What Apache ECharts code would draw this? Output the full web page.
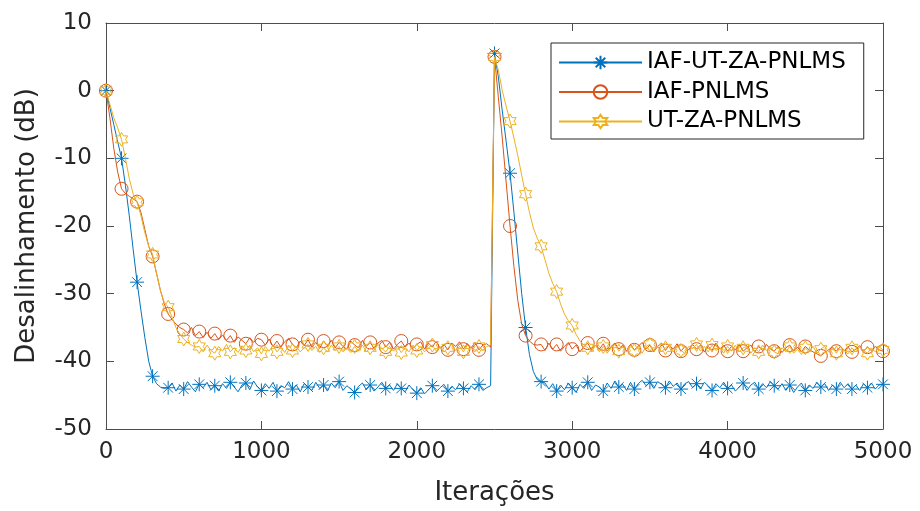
<!DOCTYPE html>
<html><head><meta charset="utf-8">
<script src="https://cdn.jsdelivr.net/npm/echarts@6/dist/echarts.min.js"></script>
<style>html,body{margin:0;padding:0;background:#fff}#c{width:920px;height:511px}</style>
</head><body><div id="c"></div>
<script>
// Iteration step between consecutive samples
const STEP = 25;
const MARKER_EVERY = 4; // markers every 100 iterations
const seriesNames = ['IAF-UT-ZA-PNLMS', 'IAF-PNLMS', 'UT-ZA-PNLMS'];
const xTickLabels = [0, 1000, 2000, 3000, 4000, 5000];
const yTickLabels = [-50, -40, -30, -20, -10, 0, 10];

const iafUtZa = [
0,-2.5,-5,-7.5,-10,-14,-18.5,-23.5,-28.3,-32.5,-36.5,-40,-42.2,-43.3,-43.8,-44.0,
-43.9,-43.2,-44.4,-43.5,-44.1,-43.0,-43.8,-44.5,-43.4,-43.9,
-43.1,-44.2,-43.6,-44.4,-43.3,-44.0,-43.1,-43.8,-44.5,-43.5,
-43.2,-44.2,-42.9,-43.8,-44.3,-43.3,-44.0,-43.1,-44.4,-43.6,
-43.9,-43.0,-44.1,-43.5,-44.5,-43.3,-43.8,-44.3,-43.1,-44.0,
-43.5,-44.4,-43.2,-43.9,-43.0,-44.3,-43.6,-44.1,-44.6,-43.7,
-43.2,-44.2,-43.5,-44.4,-43.8,-43.1,-44.0,-43.5,-44.3,-43.3,
-44.0,-44.5,-43.5,-44.2,-44.7,-43.9,-44.8,-44.2,-43.6,-44.5,
-43.9,-43.4,-44.4,-43.7,-44.2,-43.3,-44.0,-44.5,-43.6,-44.2,
-43.4,-44.3,-43.9,-43.6,
5.5,2.0,-3,-7.5,-12.2,-18,-24,-30,-35,-39,-41.5,-42.7,-43.0,
-43.2,-44.1,-43.3,-44.4,-43.5,-44.2,-43.2,-43.9,-44.6,-43.4,
-44.0,-43.1,-44.3,-43.5,-43.8,-44.4,-43.2,-44.0,-42.9,-43.8,
-43.4,-44.3,-43.1,-44.1,-43.3,-42.8,-43.6,-43.1,-44.0,-43.0,
-43.4,-43.9,-42.9,-43.7,-43.2,-44.1,-43.3,-43.0,-43.9,-43.3,
-44.1,-43.1,-43.6,-44.3,-43.3,-43.9,-43.1,-44.0,-43.5,-44.4,
-43.8,-43.2,-44.3,-43.5,-43.1,-44.1,-43.3,-43.9,-43.0,-43.6,
-44.1,-43.3,-44.3,-43.5,-44.6,-43.8,-43.2,-44.3,-43.5,-44.0,
-43.1,-43.8,-43.3,-44.3,-43.5,-44.1,-43.1,-43.9,-43.3,-44.1,
-43.5,-44.3,-43.3,-43.9,-43.2,-44.1,-43.5,-43.4
];

const iafPnlms = [
0,-4,-8.5,-12,-14.5,-15.2,-15.6,-16.0,-16.4,-18,-20.5,-23,-24.5,-27,-29.5,-31.5,-33,-33.8,-34.5,-35,-35.3,
-35.8,-35.0,-36.2,-35.6,-36.5,-35.7,-36.6,-35.9,-36.8,-36.1,-36.9,-36.2,-37.2,-36.4,-36.9,-37.4,-36.5,-37.2,-36.6,
-36.8,-37.6,-36.7,-37.8,-37.0,-37.9,-37.1,-36.6,-37.5,-38.0,
-37.0,-37.7,-36.8,-37.9,-37.2,-38.1,-37.0,-37.7,-36.9,-38.0,
-37.2,-37.8,-38.2,-37.0,-37.6,-38.0,-36.9,-37.8,-37.2,-38.1,
-37.3,-36.9,-37.9,-37.2,-38.2,-37.5,-37.0,-37.9,-37.3,-38.1,
-37.5,-37.1,-38.2,-37.3,-37.9,-37.0,-38.1,-37.5,-38.3,-37.3,
-37.8,-37.1,-38.2,-37.4,-38.0,-37.2,-38.3,-37.6,-37.4,-37.9,
5,-1,-7,-13.5,-20,-26,-31,-34.5,-36.2,-37.0,-37.5,-37.6,
-37.5,-38.4,-37.3,-38.2,-37.5,-38.5,-37.8,-37.2,-38.2,-37.6,
-38.6,-37.8,-37.3,-38.4,-37.6,-38.2,-37.4,-38.5,-37.8,-37.3,
-38.2,-37.6,-38.5,-37.5,-38.3,-37.8,-37.2,-38.2,-37.6,-38.6,
-37.8,-37.3,-38.4,-37.6,-38.2,-37.4,-38.5,-37.8,-38.3,-37.5,
-38.2,-37.6,-38.6,-37.8,-38.4,-37.3,-38.2,-37.6,-38.5,-37.8,
-38.3,-37.5,-38.5,-38.0,-37.6,-38.6,-37.8,-38.4,-37.5,-38.2,
-38.5,-37.8,-38.7,-38.0,-37.6,-38.5,-37.9,-38.6,-37.8,-38.3,
-38.6,-38.9,-39.2,-38.7,-38.3,-37.9,-38.5,-37.8,-38.4,-37.9,
-38.6,-38.2,-37.7,-38.5,-37.9,-38.4,-37.8,-38.3,-38.5
];

const utZaPnlms = [
0,-2,-4,-5.5,-7.2,-10,-13,-15.3,-16.5,-18.5,-21,-23,-24.2,-27,-29.5,-31.3,-32,-33.5,-35,-36,-36.7,-37.2,-37.6,-37.9,
-37.8,-38.6,-37.6,-38.4,-38.8,-37.8,-38.5,-37.5,-38.6,-38.0,
-38.7,-37.7,-38.4,-37.6,-38.6,-38.0,-38.9,-37.8,-38.5,-37.6,
-38.6,-37.9,-38.7,-37.6,-38.4,-37.8,-38.6,-38.0,-37.5,-38.4,
-37.8,-38.7,-38.0,-38.6,-37.6,-38.4,-37.8,-38.6,-38.0,-38.7,
-37.8,-38.5,-37.6,-38.6,-38.0,-38.4,-37.5,-38.1,-38.6,-37.8,
-38.5,-37.8,-38.7,-38.0,-38.6,-37.6,-38.4,-37.8,-38.6,-38.0,
-37.6,-38.5,-37.8,-38.6,-38.0,-37.5,-38.4,-37.8,-38.6,-37.6,
-38.1,-38.6,-37.8,-38.4,-37.8,-37.6,
5,3,0,-2.3,-4.5,-7,-9.6,-12.5,-15.3,-18,-20.3,-21.8,-23,-25,-27,-28.5,-29.7,-31.5,-33,-34,-34.7,-36,-37,-37.6,-38,
-38.5,-37.6,-38.6,-37.8,-38.8,-38.0,-37.5,-38.5,-37.8,-38.6,
-37.6,-38.4,-38.0,-38.8,-37.8,-37.5,-38.5,-37.8,-38.6,-38.0,
-37.6,-38.6,-37.8,-38.4,-38.8,-37.8,-38.1,-37.5,-38.5,-37.8,
-38.6,-37.6,-38.4,-38.0,-38.8,-37.8,-38.5,-37.6,-38.6,-38.0,
-37.8,-38.8,-38.0,-38.6,-37.6,-38.4,-37.8,-38.6,-38.9,-38.0,
-38.6,-37.8,-38.8,-38.2,-39.0,-38.0,-38.6,-37.8,-38.8,-38.2,
-37.8,-38.6,-38.0,-38.8,-37.8,-38.4,-38.9,-38.0,-38.6,-37.9,
-38.4,-38.8,-38.0,-38.6,-37.9,-38.3
];

const colors = ['#0072BD', '#D95319', '#EDB120'];
const symbols = [
  'path://M0,10L20,10M10,0L10,20M3,3L17,17M3,17L17,3',
  'circle',
  'path://M10,0L12.89,5L18.66,5L15.77,10L18.66,15L12.89,15L10,20L7.11,15L1.34,15L4.23,10L1.34,5L7.11,5Z'
];
const symbolSizes = [14, 13, 14];
const values = [iafUtZa, iafPnlms, utZaPnlms];

const FONT = 'DejaVu Sans';
const TXT = '#262626';
const AX = '#4d4d4d';

function mk(i) {
  return {
    name: seriesNames[i],
    type: 'line',
    data: values[i].map((v, k) => [k * STEP, v]),
    symbol: symbols[i],
    symbolSize: (val, p) => (p.dataIndex % MARKER_EVERY === 0 ? symbolSizes[i] : 0),
    symbolKeepAspect: true,
    showAllSymbol: true,
    lineStyle: { color: colors[i], width: 1 },
    itemStyle: { color: 'transparent', borderColor: colors[i], borderWidth: 1 },
    emphasis: { disabled: true },
    z: 2 + i
  };
}

const chart = echarts.init(document.getElementById('c'), null, { renderer: 'canvas' });
const axisCommon = {
  axisLine: { show: true, onZero: false, lineStyle: { color: AX, width: 1 } },
  axisTick: { show: true, inside: true, length: 8, lineStyle: { color: AX } },
  splitLine: { show: false }
};
chart.setOption({
  animation: false,
  backgroundColor: '#fff',
  grid: { left: 106, right: 37, top: 23, bottom: 79 },
  xAxis: [
    Object.assign({
      type: 'value', min: xTickLabels[0], max: xTickLabels[xTickLabels.length - 1], interval: 1000,
      position: 'bottom',
      name: 'Iterações', nameLocation: 'middle', nameGap: 51,
      nameTextStyle: { fontFamily: FONT, fontSize: 26, color: TXT },
      axisLabel: { fontFamily: FONT, fontSize: 23, color: TXT, margin: 12, formatter: v => String(v) }
    }, axisCommon),
    Object.assign({
      type: 'value', min: xTickLabels[0], max: xTickLabels[xTickLabels.length - 1], interval: 1000,
      position: 'top', axisLabel: { show: false }
    }, axisCommon)
  ],
  yAxis: [
    Object.assign({
      type: 'value', min: yTickLabels[0], max: yTickLabels[yTickLabels.length - 1], interval: 10,
      position: 'left',
      name: 'Desalinhamento (dB)', nameLocation: 'middle', nameGap: 66, nameRotate: 90,
      nameTextStyle: { fontFamily: FONT, fontSize: 26, color: TXT },
      axisLabel: { fontFamily: FONT, fontSize: 23, color: TXT, margin: 14, formatter: v => String(v) }
    }, axisCommon),
    Object.assign({
      type: 'value', min: yTickLabels[0], max: yTickLabels[yTickLabels.length - 1], interval: 10,
      position: 'right', axisLabel: { show: false }
    }, axisCommon)
  ],
  legend: {
    orient: 'vertical', left: 551, top: 43,
    padding: [8, 18, 6, 7],
    itemWidth: 83, itemHeight: 17, itemGap: 6.5,
    backgroundColor: '#fff', borderColor: '#262626', borderWidth: 1, borderRadius: 0,
    textStyle: { fontFamily: FONT, fontSize: 23, color: '#000', lineHeight: 23 },
    data: seriesNames
  },
  series: [mk(0), mk(1), mk(2)]
});
</script>
</body></html>
